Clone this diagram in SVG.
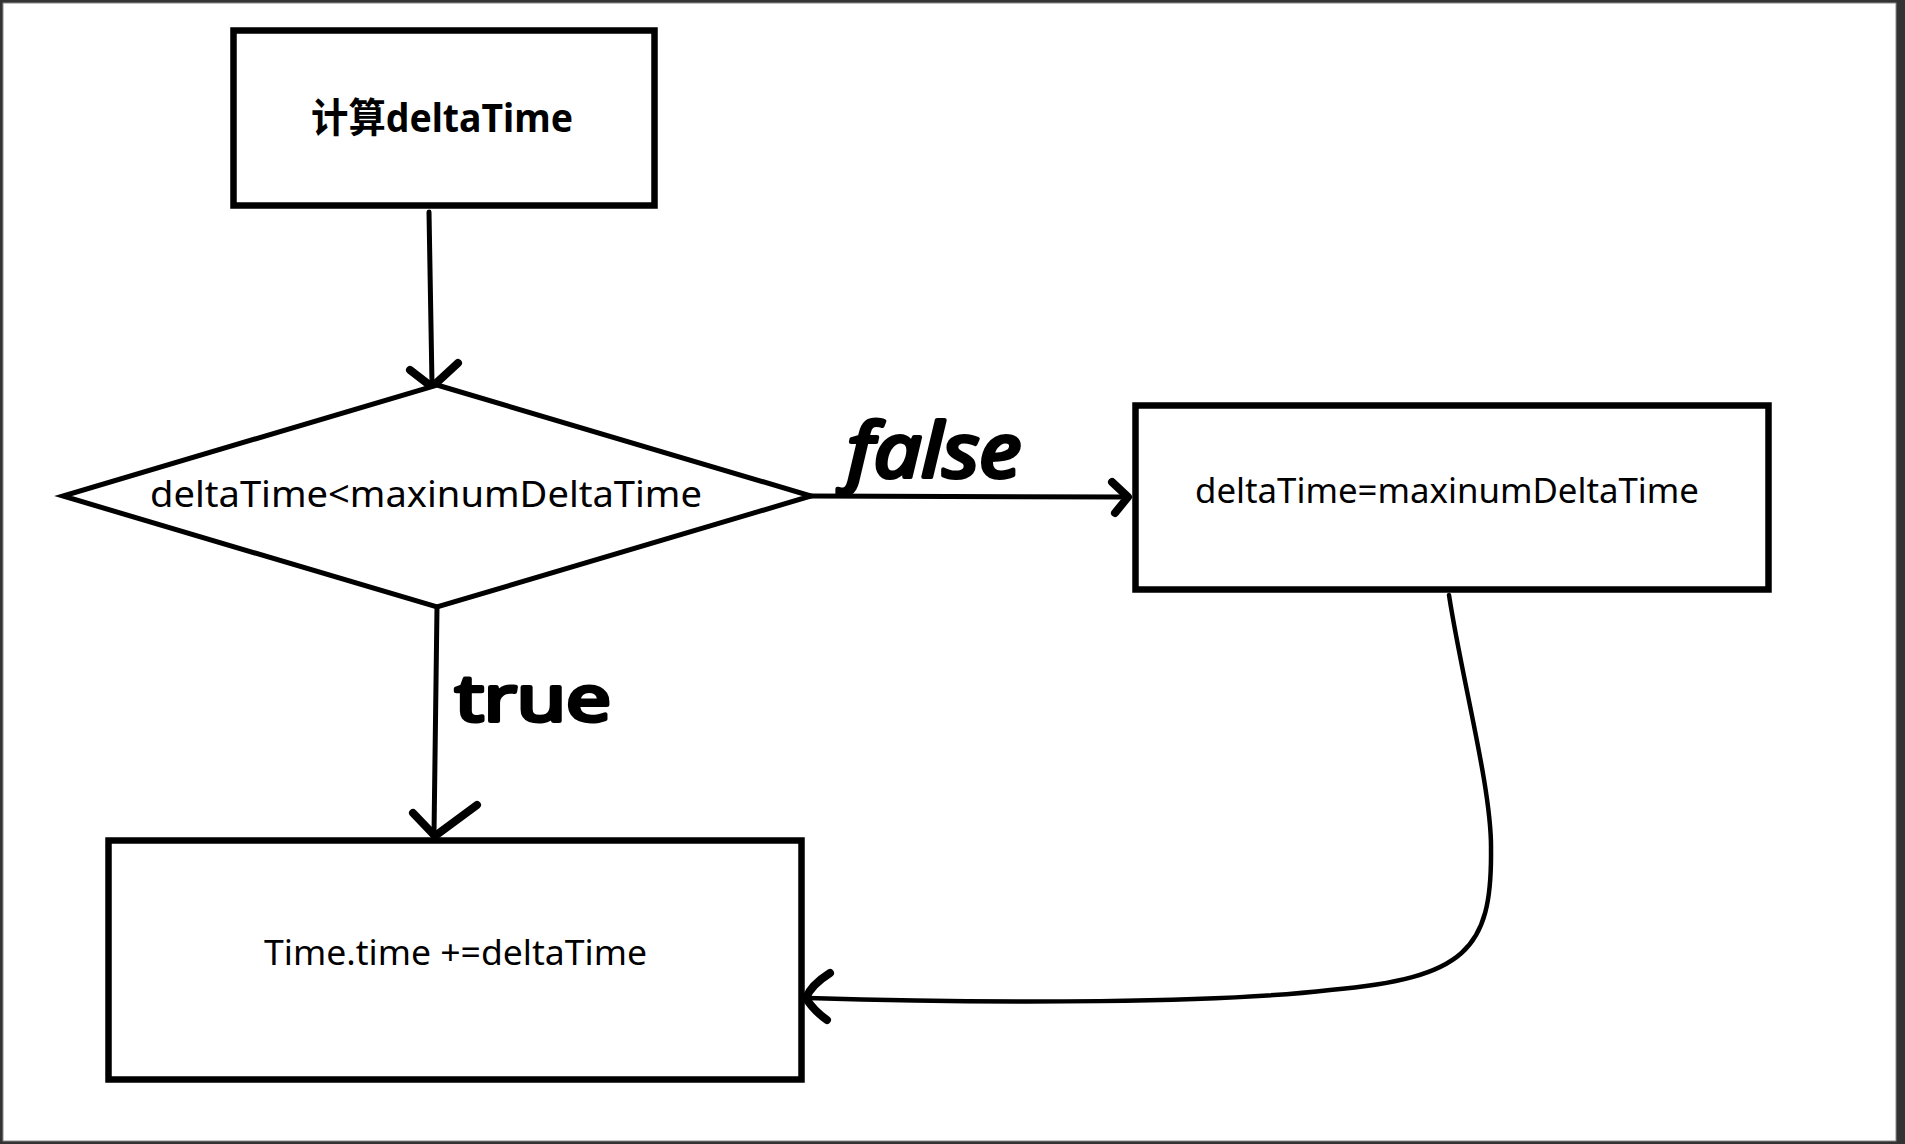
<svg xmlns="http://www.w3.org/2000/svg" width="1905" height="1144" viewBox="0 0 1905 1144">
<style>
.box{fill:#fff;stroke:#000;stroke-width:6.5}
.dia{fill:#fff;stroke:#000;stroke-width:5;stroke-linejoin:miter}
.lbl{font-family:"Noto Sans","Noto Sans CJK SC",sans-serif;fill:#000}
.line{fill:none;stroke:#000;stroke-width:5;stroke-linecap:round}
.head{fill:none;stroke:#000;stroke-width:8;stroke-linecap:round;stroke-linejoin:round}
.hand{font-family:"Noto Sans",sans-serif;font-weight:normal;fill:#000;stroke:#000;stroke-width:4;stroke-linejoin:round;stroke-linecap:round}
</style>
<rect x="0" y="0" width="1905" height="1144" fill="#333"/>
<rect x="3" y="3" width="1893" height="1138" fill="#fff" stroke="#8a8a8a" stroke-width="1"/>
<g id="connectors">
<path class="line" d="M429,212 L432,384"/>
<path class="head" d="M410,370 L432,387 L458,363"/>
<path class="line" d="M810,496 L1127,497"/>
<path class="head" d="M1112,482 L1128,497 L1115,513"/>
<path class="line" d="M437,607 L434,834"/>
<path class="head" d="M413,813 L435,836 L477,805"/>
<path d="M1449,595 C1462,680 1492,790 1491,850 C1492,950 1465,978 1330,990 C1220,1003 1000,1004 808,998" fill="none" stroke="#000" stroke-width="4.5" stroke-linecap="round"/>
<path class="head" d="M830,973 Q811,985 806,998 Q813,1010 827,1020"/>
<text class="hand" x="847" y="477" font-size="74" font-style="italic" textLength="174" lengthAdjust="spacingAndGlyphs">false</text>
<text class="hand" x="455" y="721" font-size="64" textLength="156" lengthAdjust="spacingAndGlyphs">true</text>
</g>
<g id="node-calc">
<rect class="box" x="233.5" y="30.5" width="421" height="175"/>
<text class="lbl" x="311" y="132" font-size="40" font-weight="bold" textLength="262" lengthAdjust="spacingAndGlyphs">计算deltaTime</text>
</g>
<g id="node-decision">
<polygon class="dia" points="437,385 811,496 437,607 63,496"/>
<text class="lbl" x="150" y="507" font-size="37" textLength="552" lengthAdjust="spacingAndGlyphs">deltaTime&lt;maxinumDeltaTime</text>
</g>
<g id="node-clamp">
<rect class="box" x="1135.5" y="405.5" width="633" height="184"/>
<text class="lbl" x="1195" y="503" font-size="34" textLength="504" lengthAdjust="spacingAndGlyphs">deltaTime=maxinumDeltaTime</text>
</g>
<g id="node-accumulate">
<rect class="box" x="108.5" y="840.5" width="693" height="239"/>
<text class="lbl" x="264" y="965" font-size="34" textLength="383" lengthAdjust="spacingAndGlyphs">Time.time +=deltaTime</text>
</g>
</svg>
